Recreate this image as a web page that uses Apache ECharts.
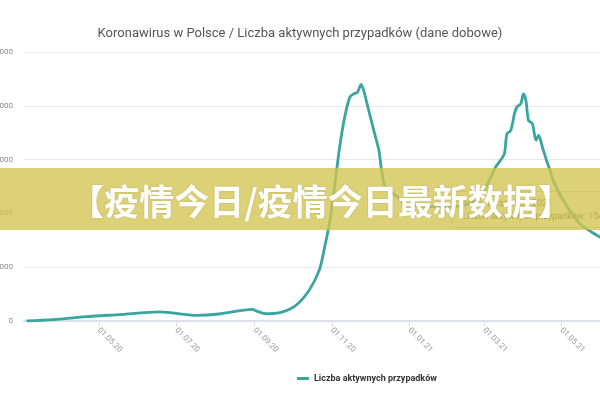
<!DOCTYPE html>
<html>
<head>
<meta charset="utf-8">
<script src="https://cdn.jsdelivr.net/npm/echarts@6/dist/echarts.min.js"></script>
<style>html,body{margin:0;padding:0;background:#fff}#c{width:600px;height:400px}</style>
</head>
<body>
<div id="c"></div>
<script>
var titleText = 'Koronawirus w Polsce / Liczba aktywnych przypadków (dane dobowe)';
var seriesName = 'Liczba aktywnych przypadków';
var bannerText = '【疫情今日/疫情今日最新数据】';
var tooltipDate = 'Środa, 2 czerwiec 2021';
var tooltipLine = 'Liczba aktywnych przypadków: 154 022';

var dates = ['2020-03-05','2020-03-26','2020-04-21','2020-05-17','2020-06-18','2020-07-17','2020-08-04','2020-08-30','2020-09-03','2020-09-10','2020-09-20','2020-10-03','2020-10-14','2020-10-22','2020-10-26','2020-10-30','2020-11-03','2020-11-07','2020-11-11','2020-11-15','2020-11-18','2020-11-21','2020-11-24','2020-11-26','2020-11-30','2020-12-04','2020-12-08','2020-12-10','2020-12-13','2020-12-21','2020-12-29','2021-01-24','2021-02-13','2021-02-25','2021-03-05','2021-03-10','2021-03-14','2021-03-17','2021-03-19','2021-03-22','2021-03-25','2021-03-27','2021-03-30','2021-04-01','2021-04-03','2021-04-05','2021-04-08','2021-04-11','2021-04-13','2021-04-16','2021-04-20','2021-04-22','2021-04-25','2021-05-03','2021-05-15','2021-05-25','2021-06-02'];
var values = [0,2500,8000,12000,17000,10500,13000,21500,18000,13500,15000,28000,57000,95000,135000,182000,249000,323000,379000,416000,422000,425000,440000,428000,391000,354000,317000,282000,250000,234000,218000,212000,215000,228000,261000,286000,299000,311000,348000,354000,386000,398000,404000,422000,410000,373000,367000,336000,345000,323000,293000,280000,258000,222000,182000,165000,154000];

var tickDates = ['2020-05-01','2020-07-01','2020-09-01','2020-11-01','2021-01-01','2021-03-01','2021-05-01'];
var tickLabels = ['01.05.20','01.07.20','01.09.20','01.11.20','01.01.21','01.03.21','01.05.21'];
var xMinDate = '2020-03-03';
var xMaxDate = '2021-06-02';

var DAY = 86400000;
function dnum(s){var p=s.split('-');return Math.round(Date.UTC(+p[0],+p[1]-1,+p[2])/DAY);}
var tickNums = tickDates.map(dnum);
var data = dates.map(function(d,i){return [dnum(d), values[i]];});

var chart = echarts.init(document.getElementById('c'));
chart.setOption({
  animation:false,
  backgroundColor:'#fff',
  title:{text:titleText,left:295,top:22,textAlign:'center',
    textStyle:{fontFamily:'Roboto',fontSize:13,fontWeight:'normal',color:'#555'}},
  legend:{left:292,top:369,icon:'rect',itemWidth:12,itemHeight:3,itemGap:5,
    textStyle:{fontFamily:'Roboto',fontSize:9,fontWeight:'bold',color:'#333'},
    data:[seriesName]},
  grid:{left:24,right:-2,top:52,bottom:79,containLabel:false,outerBoundsMode:'none'},
  xAxis:{type:'value',min:dnum(xMinDate),max:dnum(xMaxDate),
    splitLine:{show:false},
    axisLine:{lineStyle:{color:'#dde2ea',width:2}},
    axisTick:{show:true,length:6,lineStyle:{color:'#dde2ea'},customValues:tickNums},
    axisLabel:{customValues:tickNums,rotate:-45,margin:8,fontFamily:'Roboto',fontSize:8,color:'#999',
      formatter:function(v){var i=tickNums.indexOf(Math.round(v));return i>=0?tickLabels[i]:'';}}
  },
  yAxis:{type:'value',min:0,max:500000,interval:100000,
    axisLine:{show:false},axisTick:{show:false},
    splitLine:{lineStyle:{color:'#e8e8e8'}},
    axisLabel:{margin:11,fontFamily:'Roboto',fontSize:8,color:'#888',
      formatter:function(v){return v===0?'0':v.toString().replace(/\B(?=(\d{3})+(?!\d))/g,',');}}
  },
  series:[{name:seriesName,type:'line',data:data,smooth:0.3,showSymbol:false,symbol:'none',
    lineStyle:{color:'#3aa59e',width:2.8},itemStyle:{color:'#3aa59e'}}],
  graphic:[
    {type:'group',left:452,top:191,z:90,children:[
      {type:'rect',shape:{x:0,y:0,width:200,height:36,r:2},style:{fill:'rgba(255,255,255,0.55)',stroke:'#c8c8c8',lineWidth:1}},
      {type:'text',x:7,y:8,style:{text:tooltipDate,fontFamily:'Roboto',fontSize:9,fill:'#444'}},
      {type:'text',x:10,y:21,style:{text:tooltipLine,fontFamily:'Roboto',fontSize:9,fill:'#444'}}
    ]},
    {type:'rect',left:0,top:168,z:100,shape:{width:600,height:62},style:{fill:'rgba(210,196,80,0.78)'}},
    {type:'text',x:321,y:202,z:101,style:{text:bannerText,fontFamily:'Noto Sans CJK SC',fontSize:35,fontWeight:'bold',
      fill:'#fff',align:'center',verticalAlign:'middle',textShadowColor:'rgba(0,0,0,0.15)',textShadowBlur:2}}
  ]
});
</script>
</body>
</html>
